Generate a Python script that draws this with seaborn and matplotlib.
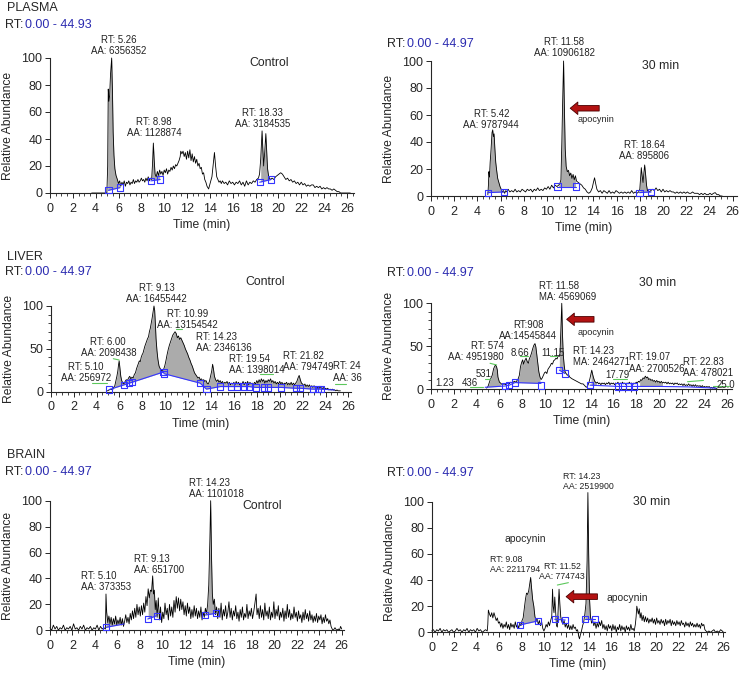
import numpy as np
import matplotlib
matplotlib.use("Agg")
import matplotlib.pyplot as plt
from matplotlib.ticker import MultipleLocator
import seaborn as sns

sns.set_style("ticks")
plt.rcParams['font.family'] = ['Liberation Sans', 'DejaVu Sans']

# %% chromatogram traces, (time min, relative abundance)
plasma_ctrl = [(3.65, 0), (4.98, 0), (5.05, 20), (5.1, 77), (5.16, 68), (5.22, 72), (5.3, 88), (5.4, 100),
               (5.47, 75), (5.53, 45), (5.6, 28), (5.68, 18), (5.78, 13), (5.9, 10), (6.0, 7), (6.1, 9),
               (6.2, 5), (6.3, 8), (6.4, 6), (6.5, 9), (6.6, 5), (6.7, 8), (6.8, 7), (6.9, 9), (7.0, 6),
               (7.1, 8), (7.2, 7), (7.3, 10), (7.4, 7), (7.5, 9), (7.6, 8), (7.7, 10), (7.8, 8), (7.9, 9),
               (8.0, 11), (8.1, 9), (8.2, 10), (8.3, 8), (8.4, 11), (8.5, 9), (8.6, 12), (8.7, 9), (8.8, 11),
               (8.9, 10), (8.98, 22), (9.05, 37), (9.12, 25), (9.2, 14), (9.3, 12), (9.4, 16), (9.5, 13),
               (9.6, 17), (9.7, 14), (9.8, 16), (9.9, 13), (10.0, 17), (10.1, 15), (10.2, 18), (10.3, 14),
               (10.4, 17), (10.5, 16), (10.6, 19), (10.7, 17), (10.8, 20), (10.9, 18), (11.0, 21), (11.1, 20),
               (11.2, 22), (11.3, 24), (11.4, 27), (11.45, 31), (11.55, 29), (11.65, 31), (11.75, 27),
               (11.85, 30), (11.95, 25), (12.05, 31), (12.15, 26), (12.25, 32), (12.35, 24), (12.45, 29),
               (12.55, 23), (12.65, 27), (12.75, 22), (12.85, 25), (12.95, 20), (13.05, 22), (13.15, 18),
               (13.25, 19), (13.35, 14), (13.45, 15), (13.55, 10), (13.65, 8), (13.75, 5), (13.89, 3),
               (13.98, 6), (14.08, 9), (14.18, 12), (14.28, 20), (14.4, 30), (14.5, 20), (14.6, 12),
               (14.7, 10), (14.8, 8), (14.9, 9), (15.0, 7), (15.1, 9), (15.25, 7), (15.4, 8), (15.55, 6),
               (15.7, 9), (15.85, 7), (16.0, 8), (16.15, 6), (16.3, 8), (16.45, 7), (16.6, 9), (16.75, 6),
               (16.9, 8), (17.05, 5), (17.2, 9), (17.35, 6), (17.5, 8), (17.65, 7), (17.8, 9), (17.95, 8),
               (18.1, 10), (18.25, 11), (18.35, 14), (18.45, 25), (18.57, 46), (18.64, 32), (18.71, 20),
               (18.8, 30), (18.9, 44), (18.98, 30), (19.05, 18), (19.15, 12), (19.3, 10), (19.45, 11),
               (19.6, 10), (19.75, 12), (19.9, 13), (20.05, 14), (20.2, 15), (20.35, 14), (20.5, 12),
               (20.65, 10), (20.8, 11), (20.95, 9), (21.1, 10), (21.25, 8), (21.4, 9), (21.55, 7), (21.7, 8),
               (21.85, 6), (22.0, 8), (22.15, 6), (22.3, 7), (22.45, 5), (22.6, 6), (22.75, 5), (22.9, 6),
               (23.05, 6), (23.2, 4), (23.35, 5), (23.5, 4), (23.65, 5), (23.8, 3), (23.95, 4), (24.1, 3),
               (24.25, 4), (24.4, 3), (24.55, 3), (24.7, 2), (24.85, 3), (25.0, 2), (25.15, 1), (25.3, 1),
               (25.45, 0), (26.3, 0)]

plasma_30 = [(4.9, 1), (4.95, 8), (4.99, 18), (5.04, 14), (5.1, 25), (5.18, 35), (5.26, 47), (5.32, 49),
             (5.38, 44), (5.44, 46), (5.5, 36), (5.58, 25), (5.66, 19), (5.75, 13), (5.85, 10), (5.95, 7),
             (6.05, 5), (6.15, 3), (6.25, 4), (6.35, 2), (6.45, 4), (6.55, 3), (6.65, 5), (6.8, 3), (6.95, 4),
             (7.1, 3), (7.25, 5), (7.4, 3), (7.55, 4), (7.7, 3), (7.85, 5), (8.0, 4), (8.15, 3), (8.3, 5),
             (8.45, 4), (8.6, 5), (8.75, 3), (8.9, 5), (9.05, 4), (9.2, 6), (9.35, 4), (9.5, 5), (9.65, 4),
             (9.8, 6), (9.95, 5), (10.1, 7), (10.25, 5), (10.4, 8), (10.55, 6), (10.7, 8), (10.85, 7),
             (11.0, 8), (11.1, 9), (11.2, 12), (11.28, 40), (11.35, 70), (11.43, 100), (11.5, 65),
             (11.57, 35), (11.65, 22), (11.75, 18), (11.85, 19), (11.95, 15), (12.05, 17), (12.15, 13),
             (12.25, 16), (12.35, 12), (12.45, 15), (12.55, 11), (12.7, 10), (12.85, 9), (13.0, 8),
             (13.15, 6), (13.3, 5), (13.45, 3), (13.6, 2), (13.75, 3), (13.9, 6), (14.0, 10), (14.1, 13.5),
             (14.2, 9), (14.3, 5), (14.45, 3), (14.6, 4), (14.75, 2), (14.9, 4), (15.05, 3), (15.2, 2),
             (15.35, 4), (15.5, 2), (15.65, 3), (15.8, 2), (15.95, 4), (16.1, 3), (16.25, 2), (16.4, 3),
             (16.55, 2), (16.7, 3), (16.85, 2), (17.0, 3), (17.15, 2), (17.3, 4), (17.45, 2), (17.6, 3),
             (17.75, 2), (17.9, 3), (18.0, 5), (18.07, 14), (18.13, 21), (18.2, 15), (18.28, 10),
             (18.35, 17), (18.42, 23), (18.5, 16), (18.58, 8), (18.66, 4), (18.8, 3), (18.95, 4), (19.1, 5),
             (19.25, 4), (19.4, 6), (19.55, 4), (19.7, 5), (19.85, 3), (20.0, 5), (20.15, 3), (20.3, 4),
             (20.45, 3), (20.6, 4), (20.75, 3), (20.9, 3), (21.05, 2), (21.2, 3), (21.35, 2), (21.5, 3),
             (21.65, 2), (21.8, 3), (21.95, 2), (22.1, 3), (22.25, 2), (22.4, 2), (22.55, 3), (22.7, 2),
             (22.85, 2), (23.0, 2), (23.15, 1), (23.3, 2), (23.45, 1), (23.6, 2), (23.75, 1), (23.9, 1),
             (24.05, 2), (24.2, 1), (24.35, 2), (24.5, 2.5), (24.65, 1), (24.8, 1), (24.95, 0), (25.1, 0)]

liver_ctrl = [(4.95, 1), (5.1, 2), (5.25, 3), (5.4, 2), (5.5, 5), (5.6, 7), (5.7, 13), (5.78, 18), (5.86, 24),
              (5.93, 32), (5.98, 36), (6.04, 28), (6.12, 18), (6.2, 13), (6.3, 10), (6.4, 9), (6.5, 12),
              (6.6, 14), (6.7, 13), (6.8, 16), (6.9, 18), (7.0, 15), (7.1, 17), (7.2, 16), (7.3, 20),
              (7.4, 22), (7.5, 27), (7.58, 30), (7.66, 33), (7.74, 36), (7.82, 35), (7.9, 40), (7.98, 43),
              (8.06, 45), (8.14, 49), (8.22, 53), (8.3, 56), (8.38, 59), (8.46, 62), (8.54, 64), (8.62, 70),
              (8.7, 74), (8.78, 80), (8.86, 86), (8.94, 93), (9.02, 100), (9.08, 95), (9.14, 80), (9.2, 62),
              (9.28, 48), (9.36, 38), (9.46, 30), (9.56, 27), (9.66, 25), (9.76, 24), (9.86, 26), (9.96, 30),
              (10.06, 36), (10.16, 43), (10.26, 49), (10.36, 54), (10.46, 58), (10.56, 62), (10.66, 66),
              (10.76, 68), (10.86, 70), (10.96, 68), (11.06, 63), (11.16, 65), (11.26, 61), (11.36, 63),
              (11.46, 60), (11.56, 57), (11.66, 54), (11.76, 50), (11.86, 47), (11.96, 44), (12.06, 40),
              (12.16, 37), (12.26, 33), (12.36, 30), (12.46, 26), (12.56, 22), (12.66, 20), (12.76, 18),
              (12.86, 16), (12.96, 17), (13.06, 14), (13.16, 15), (13.26, 13), (13.36, 14), (13.46, 12),
              (13.56, 13), (13.66, 10), (13.76, 9), (13.86, 12), (13.96, 18), (14.06, 24), (14.14, 32),
              (14.22, 26), (14.3, 18), (14.4, 14), (14.5, 12), (14.6, 14), (14.7, 11), (14.8, 13),
              (14.9, 10), (15.0, 12), (15.1, 9), (15.2, 11), (15.3, 10), (15.4, 12), (15.5, 9), (15.6, 11),
              (15.7, 8), (15.8, 10), (15.9, 9), (16.0, 11), (16.1, 8), (16.2, 12), (16.3, 9), (16.4, 11),
              (16.5, 8), (16.6, 10), (16.7, 9), (16.8, 12), (16.9, 8), (17.0, 11), (17.1, 9), (17.2, 12),
              (17.3, 8), (17.4, 11), (17.5, 9), (17.6, 10), (17.7, 8), (17.8, 11), (17.9, 9), (18.0, 13),
              (18.1, 10), (18.2, 14), (18.3, 11), (18.4, 15), (18.5, 12), (18.6, 14), (18.7, 10), (18.8, 13),
              (18.9, 11), (19.0, 14), (19.1, 12), (19.2, 15), (19.3, 11), (19.4, 13), (19.5, 10), (19.6, 12),
              (19.7, 9), (19.8, 11), (19.9, 9), (20.0, 12), (20.1, 9), (20.2, 11), (20.3, 8), (20.4, 10),
              (20.5, 9), (20.6, 11), (20.7, 8), (20.8, 10), (20.9, 8), (21.0, 11), (21.1, 8), (21.2, 10),
              (21.3, 8), (21.4, 10), (21.5, 12), (21.6, 16), (21.7, 19), (21.8, 14), (21.9, 10), (22.0, 9),
              (22.1, 7), (22.2, 9), (22.3, 6), (22.4, 8), (22.5, 6), (22.6, 8), (22.7, 5), (22.8, 7),
              (22.9, 5), (23.0, 7), (23.1, 5), (23.2, 6), (23.3, 4), (23.4, 6), (23.5, 4), (23.6, 5),
              (23.7, 3), (23.8, 5), (23.9, 3), (24.0, 4), (24.1, 3), (24.2, 4), (24.3, 2), (24.4, 3),
              (24.5, 2), (24.6, 3), (24.7, 2), (24.8, 2), (24.9, 1), (25.0, 2), (25.1, 1), (25.3, 1)]

liver_30 = [(4.88, 1), (5.0, 3), (5.1, 7), (5.2, 11), (5.37, 16), (5.5, 24), (5.65, 28), (5.75, 26),
            (5.82, 22), (5.87, 14), (6.0, 8), (6.1, 7), (6.25, 5), (6.4, 6), (6.55, 5), (6.7, 7), (6.85, 6),
            (7.0, 8), (7.15, 7), (7.3, 9), (7.45, 8), (7.55, 10), (7.65, 12), (7.75, 16), (7.85, 26),
            (7.95, 31), (8.04, 34), (8.12, 29), (8.22, 33), (8.34, 36), (8.44, 32), (8.54, 30), (8.62, 35),
            (8.72, 38), (8.82, 42), (8.92, 47), (9.02, 51), (9.12, 53), (9.2, 49), (9.28, 40), (9.36, 30),
            (9.46, 20), (9.56, 14), (9.66, 11), (9.76, 13), (9.86, 16), (9.96, 19), (10.06, 20),
            (10.16, 18), (10.26, 23), (10.36, 25), (10.46, 27), (10.56, 30), (10.66, 29), (10.76, 33),
            (10.86, 34), (10.96, 36), (11.06, 35), (11.16, 39), (11.26, 38), (11.32, 42), (11.4, 75),
            (11.47, 100), (11.53, 65), (11.6, 40), (11.68, 28), (11.76, 20), (11.86, 18), (11.96, 16),
            (12.06, 17), (12.16, 14), (12.26, 13), (12.36, 12), (12.5, 11), (12.64, 10), (12.78, 9),
            (12.92, 8), (13.06, 7), (13.2, 6), (13.34, 6), (13.48, 4), (13.62, 2), (13.72, 3), (13.84, 7),
            (13.94, 12), (14.04, 18), (14.1, 22), (14.18, 17), (14.26, 13), (14.36, 9), (14.5, 7),
            (14.6, 8), (14.7, 6), (14.8, 7), (14.9, 5), (15.0, 7), (15.1, 6), (15.2, 7), (15.3, 5),
            (15.4, 7), (15.5, 6), (15.6, 8), (15.7, 5), (15.8, 7), (15.9, 6), (16.0, 7), (16.1, 5),
            (16.2, 7), (16.3, 6), (16.4, 8), (16.5, 5), (16.6, 7), (16.7, 6), (16.8, 8), (16.9, 6),
            (17.0, 7), (17.1, 5), (17.2, 7), (17.3, 6), (17.4, 8), (17.5, 6), (17.6, 7), (17.7, 5),
            (17.8, 7), (17.9, 6), (18.0, 8), (18.1, 7), (18.2, 9), (18.3, 8), (18.4, 11), (18.5, 10),
            (18.6, 13), (18.7, 12), (18.8, 15), (18.9, 13), (19.0, 14), (19.1, 11), (19.2, 12), (19.3, 10),
            (19.4, 11), (19.5, 9), (19.6, 10), (19.7, 8), (19.8, 10), (19.9, 8), (20.0, 9), (20.1, 7),
            (20.2, 9), (20.3, 7), (20.4, 8), (20.5, 7), (20.6, 8), (20.7, 6), (20.8, 8), (20.9, 6),
            (21.0, 7), (21.1, 6), (21.2, 7), (21.3, 5), (21.4, 7), (21.5, 6), (21.6, 7), (21.7, 5),
            (21.8, 6), (21.9, 5), (22.0, 6), (22.1, 4), (22.2, 6), (22.3, 4), (22.4, 5), (22.5, 4),
            (22.6, 6), (22.7, 4), (22.8, 5), (22.9, 3), (23.0, 5), (23.1, 3), (23.2, 5), (23.3, 3),
            (23.4, 4), (23.5, 3), (23.6, 4), (23.7, 2), (23.8, 4), (23.9, 2), (24.0, 3), (24.1, 2),
            (24.2, 3), (24.3, 2), (24.4, 3), (24.5, 1), (24.6, 2), (24.7, 1), (24.8, 2), (24.9, 1),
            (25.0, 1), (25.1, 0)]

brain_ctrl = [(0.0, 2), (0.15, 0), (0.3, 4), (0.45, 1), (0.6, 3), (0.75, 0), (0.9, 2), (1.05, 1), (1.2, 4),
              (1.35, 0), (1.5, 2), (1.65, 1), (1.8, 3), (1.95, 0), (2.1, 5), (2.25, 1), (2.4, 2), (2.55, 0),
              (2.7, 3), (2.85, 1), (3.0, 4), (3.15, 0), (3.3, 2), (3.45, 1), (3.6, 3), (3.75, 0), (3.9, 2),
              (4.05, 1), (4.2, 4), (4.35, 0), (4.5, 3), (4.65, 1), (4.8, 2), (4.94, 1), (4.99, 28),
              (5.05, 14), (5.15, 6), (5.25, 11), (5.35, 5), (5.45, 10), (5.55, 4), (5.65, 9), (5.75, 5),
              (5.85, 11), (5.95, 4), (6.05, 8), (6.15, 5), (6.25, 10), (6.35, 4), (6.45, 9), (6.55, 3),
              (6.65, 7), (6.75, 12), (6.85, 6), (6.95, 10), (7.05, 5), (7.15, 13), (7.25, 8), (7.35, 15),
              (7.45, 9), (7.55, 17), (7.65, 10), (7.75, 20), (7.85, 12), (7.95, 18), (8.05, 11), (8.15, 19),
              (8.25, 12), (8.35, 21), (8.45, 14), (8.55, 26), (8.65, 19), (8.75, 32), (8.85, 25), (8.95, 31),
              (9.05, 30), (9.15, 42), (9.22, 28), (9.3, 31), (9.38, 16), (9.46, 23), (9.55, 10), (9.65, 25),
              (9.75, 8), (9.85, 18), (9.95, 6), (10.05, 14), (10.15, 9), (10.25, 21), (10.35, 12),
              (10.45, 17), (10.55, 8), (10.65, 20), (10.75, 11), (10.85, 18), (10.95, 10), (11.05, 23),
              (11.15, 14), (11.25, 26), (11.35, 17), (11.45, 25), (11.55, 15), (11.65, 24), (11.75, 16),
              (11.85, 22), (11.95, 12), (12.05, 19), (12.15, 11), (12.25, 21), (12.35, 13), (12.45, 18),
              (12.55, 9), (12.65, 16), (12.75, 10), (12.85, 19), (12.95, 11), (13.05, 17), (13.15, 9),
              (13.25, 15), (13.35, 10), (13.45, 18), (13.55, 8), (13.65, 14), (13.75, 10), (13.85, 17),
              (13.95, 13), (14.05, 20), (14.15, 35), (14.25, 70), (14.32, 100), (14.4, 55), (14.47, 28),
              (14.55, 20), (14.65, 24), (14.75, 12), (14.85, 18), (14.95, 9), (15.05, 17), (15.15, 10),
              (15.25, 21), (15.35, 8), (15.45, 16), (15.55, 11), (15.65, 19), (15.75, 9), (15.85, 14),
              (15.95, 22), (16.05, 10), (16.15, 17), (16.25, 8), (16.35, 15), (16.45, 11), (16.55, 19),
              (16.65, 9), (16.75, 14), (16.85, 7), (16.95, 16), (17.05, 10), (17.15, 18), (17.25, 8),
              (17.35, 13), (17.45, 10), (17.55, 20), (17.65, 9), (17.75, 15), (17.85, 11), (17.95, 17),
              (18.05, 9), (18.15, 14), (18.25, 20), (18.37, 28), (18.45, 12), (18.55, 17), (18.65, 9),
              (18.75, 19), (18.85, 10), (18.95, 16), (19.05, 8), (19.15, 21), (19.25, 11), (19.35, 15),
              (19.45, 9), (19.55, 18), (19.65, 8), (19.75, 14), (19.85, 10), (19.95, 22), (20.05, 9),
              (20.15, 16), (20.25, 11), (20.35, 19), (20.45, 8), (20.55, 14), (20.65, 10), (20.75, 17),
              (20.85, 7), (20.95, 15), (21.05, 9), (21.15, 20), (21.25, 10), (21.35, 16), (21.45, 8),
              (21.55, 13), (21.65, 9), (21.75, 18), (21.85, 10), (21.95, 14), (22.05, 7), (22.15, 15),
              (22.25, 9), (22.35, 12), (22.45, 6), (22.55, 14), (22.65, 8), (22.75, 16), (22.85, 9),
              (22.95, 13), (23.05, 7), (23.15, 15), (23.25, 8), (23.35, 12), (23.45, 6), (23.55, 11),
              (23.65, 7), (23.75, 13), (23.85, 6), (23.95, 11), (24.05, 8), (24.15, 12), (24.25, 5),
              (24.35, 10), (24.45, 6), (24.55, 12), (24.65, 7), (24.75, 9), (24.85, 5), (24.95, 8),
              (25.05, 3), (25.15, 1), (25.25, 0), (25.4, 2), (25.55, 0), (25.7, 1), (25.8, 0), (25.9, 3),
              (26.0, 1)]

brain_30 = [(0.0, 1), (0.15, 2), (0.3, 0), (0.45, 2), (0.6, 1), (0.75, 3), (0.9, 0), (1.05, 2), (1.2, 1),
            (1.35, 2), (1.5, 0), (1.65, 1), (1.8, 2), (1.95, 0), (2.1, 1), (2.25, 3), (2.4, 1), (2.55, 2),
            (2.7, 0), (2.85, 2), (3.0, 1), (3.15, 3), (3.3, 0), (3.45, 2), (3.6, 1), (3.75, 2), (3.9, 0),
            (4.05, 3), (4.2, 1), (4.35, 2), (4.5, 0), (4.65, 1), (4.8, 2), (4.95, 1), (5.0, 6), (5.05, 17),
            (5.15, 14), (5.25, 12), (5.35, 15), (5.45, 11), (5.55, 15), (5.65, 12), (5.75, 9), (5.85, 11),
            (5.95, 7), (6.05, 8), (6.15, 4), (6.25, 7), (6.35, 3), (6.45, 6), (6.55, 4), (6.65, 8),
            (6.75, 3), (6.85, 6), (6.95, 2), (7.05, 7), (7.15, 4), (7.25, 6), (7.35, 3), (7.45, 8),
            (7.55, 4), (7.65, 6), (7.75, 3), (7.85, 7), (7.95, 5), (8.05, 9), (8.15, 11), (8.25, 18),
            (8.35, 25), (8.45, 30), (8.55, 29), (8.65, 32), (8.75, 38), (8.82, 42), (8.9, 34), (9.0, 25),
            (9.1, 20), (9.2, 12), (9.3, 9), (9.4, 10), (9.5, 6), (9.6, 9), (9.7, 5), (9.8, 8), (9.9, 3),
            (10.0, 1), (10.1, 3), (10.2, 6), (10.3, 4), (10.4, 8), (10.5, 5), (10.6, 9), (10.7, 12),
            (10.77, 33), (10.83, 20), (10.9, 15), (10.97, 27), (11.05, 15), (11.12, 5), (11.2, 4),
            (11.28, 20), (11.35, 33), (11.42, 22), (11.5, 12), (11.6, 8), (11.7, 6), (11.8, 9), (11.9, 4),
            (12.0, 7), (12.1, 3), (12.2, 6), (12.3, 2), (12.4, 5), (12.5, 2), (12.6, 6), (12.7, 3),
            (12.8, 4), (12.9, 1), (13.0, 2), (13.1, -3), (13.17, -5), (13.25, -2), (13.35, 1), (13.45, 5),
            (13.55, 8), (13.65, 14), (13.75, 22), (13.85, 55), (13.92, 107), (13.99, 60), (14.07, 25),
            (14.15, 12), (14.25, 7), (14.35, 9), (14.45, 5), (14.55, 8), (14.65, 3), (14.75, 7),
            (14.85, 4), (14.95, 8), (15.05, 5), (15.15, 9), (15.25, 3), (15.35, 6), (15.45, 2), (15.55, 5),
            (15.65, 1), (15.75, 6), (15.85, 3), (15.95, 5), (16.05, 1), (16.15, 6), (16.25, 2), (16.35, 5),
            (16.45, 0), (16.55, 4), (16.65, 2), (16.75, 6), (16.85, 1), (16.95, 5), (17.05, 2), (17.15, 4),
            (17.25, 0), (17.35, 5), (17.45, 2), (17.55, 4), (17.65, 1), (17.75, 6), (17.85, 2), (17.95, 3),
            (18.05, 1), (18.15, 6), (18.22, 12), (18.28, 20), (18.35, 17), (18.42, 14), (18.5, 18),
            (18.58, 11), (18.66, 15), (18.75, 9), (18.85, 13), (18.95, 8), (19.05, 12), (19.15, 8),
            (19.25, 11), (19.35, 7), (19.45, 10), (19.55, 8), (19.65, 11), (19.75, 7), (19.85, 10),
            (19.95, 6), (20.05, 11), (20.15, 7), (20.25, 9), (20.35, 6), (20.45, 10), (20.55, 7),
            (20.65, 9), (20.75, 5), (20.85, 10), (20.95, 6), (21.05, 9), (21.15, 7), (21.25, 10),
            (21.35, 5), (21.45, 9), (21.55, 6), (21.65, 8), (21.75, 5), (21.85, 9), (21.95, 6), (22.05, 8),
            (22.15, 5), (22.25, 9), (22.35, 6), (22.45, 7), (22.55, 4), (22.65, 8), (22.75, 5), (22.85, 7),
            (22.95, 4), (23.05, 8), (23.15, 5), (23.25, 7), (23.35, 4), (23.45, 6), (23.55, 4), (23.65, 7),
            (23.75, 4), (23.85, 6), (23.95, 3), (24.05, 7), (24.15, 5), (24.25, 6), (24.35, 2), (24.45, 1),
            (24.55, 0), (24.7, 1), (24.85, 0), (25.0, 1), (25.15, 2), (25.3, 0), (25.45, 1), (25.6, 0),
            (25.75, 2), (25.9, 1), (26.0, 0)]

# %% integration baselines (blue) and shaded peak windows
plasma_ctrl_base = [[(5.12, 2), (6.14, 4)], [(8.83, 9), (9.65, 10)], [(18.36, 8), (19.36, 10)]]
plasma_30_base = [[(4.9, 2.5), (6.3, 3)], [(10.9, 7), (12.5, 7)], [(17.97, 2.5), (18.97, 3)]]
liver_ctrl_base = [[(5.1, 2.5), (6.4, 8), (6.85, 10), (7.1, 11), (9.85, 23), (9.9, 21), (13.05, 10),
                    (13.6, 3), (14.8, 6), (15.75, 6), (16.3, 6), (16.85, 6), (17.3, 6), (17.9, 5),
                    (18.6, 5), (18.95, 5), (20.1, 5), (21.4, 4), (21.8, 4), (22.9, 3), (23.35, 3),
                    (23.6, 3), (24.8, 2)]]
liver_30_base = [[(4.75, 2), (6.5, 3.5), (6.87, 4.5), (7.37, 7.5), (9.65, 6.5)],
                 [(11.26, 22), (11.76, 18)],
                 [(13.95, 4.5), (16.4, 3), (16.8, 3), (17.4, 3), (17.8, 3), (20.0, 3), (22.5, 2.5),
                  (25.0, 1)]]
brain_ctrl_base = [[(4.99, 2.3), (6.6, 4.9)], [(8.71, 8.7), (9.51, 11.3)], [(13.82, 11.8), (14.8, 13.1)]]
brain_30_base = [[(7.84, 5.6), (9.45, 8.7)], [(10.96, 10), (11.9, 9.4)], [(13.64, 10), (14.53, 10)]]

plasma_ctrl_sq = [(5.12, 2), (6.14, 4), (8.83, 9), (9.65, 10), (18.36, 8), (19.36, 10)]
plasma_30_sq = [(4.9, 2.5), (6.3, 3), (10.9, 7), (12.5, 7), (17.97, 2.5), (18.97, 3)]
liver_ctrl_sq = liver_ctrl_base[0][:-1]
liver_30_sq = [(6.5, 3.5), (6.87, 4.5), (7.37, 7.5), (9.65, 4), (11.26, 22), (11.76, 18), (13.95, 4.5),
               (16.4, 3), (16.8, 3), (17.4, 3), (17.8, 3)]
brain_ctrl_sq = [(4.99, 2.3), (8.71, 8.7), (9.51, 11.3), (13.82, 11.8), (14.8, 13.1)]
brain_30_sq = [(7.84, 5.6), (9.45, 8.7), (10.96, 10), (11.9, 9.4), (13.64, 10), (14.53, 10)]

plasma_ctrl_fill = [(5.02, 6.14), (8.83, 9.65), (18.36, 19.36)]
plasma_30_fill = [(4.9, 6.3), (10.9, 12.5), (17.97, 18.97)]
liver_ctrl_fill = [(5.1, 24.8)]
liver_30_fill = [(5.0, 6.2), (7.4, 9.6), (11.26, 11.76), (13.95, 14.5), (18.3, 20.3)]
brain_ctrl_fill = [(4.99, 6.6), (8.71, 9.51), (13.82, 14.8)]
brain_30_fill = [(7.84, 9.45), (13.64, 14.53)]
brain_30_light = [(11.1, 11.6)]

# %% peak labels: (time, height, text, alignment)
plasma_ctrl_lab = [(6.0, 109, "RT: 5.26\nAA: 6356352", "center"),
                   (9.1, 48.5, "RT: 8.98\nAA: 1128874", "center"),
                   (18.6, 55, "RT: 18.33\nAA: 3184535", "center")]
plasma_30_lab = [(5.2, 56.5, "RT: 5.42\nAA: 9787944", "center"),
                 (11.5, 110, "RT: 11.58\nAA: 10906182", "center"),
                 (18.4, 34, "RT: 18.64\nAA: 895806", "center")]
liver_ctrl_lab = [(3.06, 22.7, "RT: 5.10\nAA: 256972", "center"),
                  (5.03, 51.9, "RT: 6.00\nAA: 2098438", "center"),
                  (9.26, 114.4, "RT: 9.13\nAA: 16455442", "center"),
                  (11.96, 84.6, "RT: 10.99\nAA: 13154542", "center"),
                  (12.69, 57.4, "RT: 14.23\nAA: 2346136", "left"),
                  (15.6, 31.5, "RT: 19.54\nAA: 1398014", "left"),
                  (20.32, 35.4, "RT: 21.82\nAA: 794749", "left"),
                  (24.65, 23, "RT: 24\nAA: 36", "left")]
liver_30_lab = [(1.23, 7.4, "1.23", "center"), (3.42, 6.6, "436", "center"), (4.59, 17.5, "531", "center"),
                (6.35, 43.4, "RT: 574\nAA: 4951980", "right"), (7.81, 41.6, "8.66", "center"),
                (8.54, 68.7, "RT:908\nAA:14545844", "center"), (10.7, 42.4, "11.15", "center"),
                (9.45, 114, "RT: 11.58\nMA: 4569069", "left"),
                (12.49, 37.5, "RT: 14.23\nMA: 2464271", "left"), (16.32, 16.3, "17.79", "center"),
                (17.37, 30.3, "RT: 19.07\nAA: 2700526", "left"),
                (22.14, 25.1, "RT: 22.83\nAA: 478021", "left"), (25.07, 4.7, "25.0", "left")]
brain_ctrl_lab = [(2.73, 37.5, "RT: 5.10\nAA: 373353", "left"),
                  (7.52, 51, "RT: 9.13\nAA: 651700", "left"),
                  (12.42, 109.2, "RT: 14.23\nAA: 1101018", "left")]
brain_30_lab = [(5.2, 52.2, "RT: 9.08\nAA: 2211794", "left"),
                (11.62, 46.7, "RT: 11.52\nAA: 774743", "center"),
                (11.74, 115.6, "RT: 14.23\nAA: 2519900", "left")]

# green apex markers
liver_ctrl_green = [((3.58, 4.89), (9.8, 9.8)), ((5.47, 5.97), (38.5, 37)), ((10.92, 11.45), (72.8, 72.8)),
                    ((18.3, 19.45), (20.6, 20.6)), ((24.8, 25.8), (8.6, 8.6))]
liver_30_green = [((3.42, 4.59), (2, 2)), ((4.74, 5.18), (11.3, 11.3)), ((5.18, 5.76), (30, 28)),
                  ((7.81, 8.54), (38.5, 38.5)), ((10.44, 11.03), (38.5, 38.5)), ((16.0, 17.17), (12, 12)),
                  ((22.5, 23.9), (8.5, 10)), ((24.7, 26.1), (4, 4))]
brain_30_green = [((11.2, 12.18), (36.2, 38))]

GRAY = "#ababab"
LIGHT = "#d9d9d9"
BLUE = "#3535ff"
GREEN = "#5cc85c"
HEAD_BLUE = "#2b2bb0"

W, H = 740, 674
fig = plt.figure(figsize=(W / 100, H / 100), dpi=100)


def draw_panel(rect, xmax, trace, ystep, yminor, bases, squares, fills, labels,
               greens=(), light=(), tag=None, arrow=None, apoc=None, labsize=6.9):
    l, b, w, h = rect
    ax = fig.add_axes([l / W, b / H, w / W, h / H])
    t, y = np.array(trace).T

    # baseline used under the shaded peaks
    allb = np.array(sorted(p for seg in bases for p in seg))
    for lo, hi in fills:
        m = (t >= lo) & (t <= hi)
        base = np.interp(t[m], allb[:, 0], allb[:, 1])
        ax.fill_between(t[m], base, np.maximum(y[m], base), color=GRAY, lw=0, zorder=1, clip_on=False)
    for lo, hi in light:
        m = (t >= lo) & (t <= hi)
        base = np.interp(t[m], allb[:, 0], allb[:, 1])
        ax.fill_between(t[m], base, np.maximum(y[m], base), color=LIGHT, lw=0, zorder=1, clip_on=False)

    sns.lineplot(x=t, y=y, ax=ax, color="black", linewidth=0.6, estimator=None, sort=False,
                 errorbar=None, zorder=2)
    ax.lines[-1].set_clip_on(False)

    for seg in bases:
        bt, by = np.array(seg).T
        ax.plot(bt, by, color=BLUE, lw=0.8, zorder=3, clip_on=False)
    st, sy = np.array(squares).T
    ax.scatter(st, sy, marker="s", s=20, facecolors="none", edgecolors=BLUE, linewidths=0.8,
               zorder=4, clip_on=False)
    for (gx, gy) in greens:
        ax.plot(gx, gy, color=GREEN, lw=0.8, zorder=3, clip_on=False)

    for lt, ly, txt, ha in labels:
        ax.text(lt, ly, txt, ha=ha, va="center", fontsize=labsize, linespacing=1.15,
                color="#222222", clip_on=False, zorder=5)
    if tag:
        ax.text(tag[0], tag[1], tag[2], ha="center", va="center", fontsize=8.8)
    if arrow:
        ax.annotate("", xy=(arrow[1], arrow[2]), xytext=(arrow[0], arrow[2]), annotation_clip=False,
                    arrowprops=dict(arrowstyle="simple,head_length=0.55,head_width=0.9,tail_width=0.4",
                                    fc="#b31212", ec="#4a0000", lw=0.6, shrinkA=0, shrinkB=0,
                                    mutation_scale=10))
    if apoc:
        ax.text(apoc[0], apoc[1], "apocynin", ha="center", va="center", fontsize=apoc[2])

    ax.set_xlim(0, xmax)
    ax.set_ylim(0, 100)
    ax.xaxis.set_major_locator(MultipleLocator(2))
    ax.xaxis.set_minor_locator(MultipleLocator(0.5))
    ax.yaxis.set_major_locator(MultipleLocator(ystep))
    if yminor:
        ax.yaxis.set_minor_locator(MultipleLocator(yminor))
    ax.tick_params(which="major", direction="out", length=3.5, width=0.7, labelsize=9, pad=3.5)
    ax.tick_params(which="minor", direction="out", length=2.5, width=0.6)
    ax.tick_params(axis="y", pad=2)
    for s in ("top", "right"):
        ax.spines[s].set_visible(False)
    for s in ("left", "bottom"):
        ax.spines[s].set_linewidth(0.8)
    ax.set_xlabel("Time (min)", fontsize=8.7, labelpad=3)
    ax.set_ylabel("Relative Abundance", fontsize=8.7, labelpad=5)
    return ax


def header(x, y, rng, name=None, name_y=None):
    if name:
        fig.text(x / W + 0.003, 1 - name_y / H, name, fontsize=9, va="center")
    fig.text(x / W, 1 - y / H, "RT:", fontsize=9, va="center")
    fig.text((x + 20) / W, 1 - y / H, rng, fontsize=9, va="center", color=HEAD_BLUE)


draw_panel((50, 481, 26.6 * 11.42, 135), 26.6, plasma_ctrl, 20, None, plasma_ctrl_base, plasma_ctrl_sq,
           plasma_ctrl_fill, plasma_ctrl_lab, tag=(19.2, 96, "Control"))
draw_panel((431, 478, 26.4 * 11.6, 135), 26.4, plasma_30, 20, None, plasma_30_base, plasma_30_sq,
           plasma_30_fill, plasma_30_lab, tag=(19.8, 96, "30 min"), arrow=(14.5, 12.0, 65),
           apoc=(14.2, 57, 6.6))
draw_panel((50.7, 282.3, 26.2 * 11.45, 85.7), 26.2, liver_ctrl, 50, 10, liver_ctrl_base, liver_ctrl_sq,
           liver_ctrl_fill, liver_ctrl_lab, greens=liver_ctrl_green, tag=(18.7, 128, "Control"))
draw_panel((431, 285, 26.4 * 11.4, 85.7), 26.4, liver_30, 50, 10, liver_30_base, liver_30_sq,
           liver_30_fill, liver_30_lab, greens=liver_30_green, tag=(19.86, 124, "30 min"),
           arrow=(14.3, 11.9, 81.3), apoc=(14.48, 65.8, 6.6))
draw_panel((50, 43.7, 26.2 * 11.22, 129.6), 26.2, brain_ctrl, 20, None, brain_ctrl_base, brain_ctrl_sq,
           brain_ctrl_fill, brain_ctrl_lab, tag=(18.87, 96, "Control"))
ax6 = draw_panel((431.7, 41.7, 26.1 * 11.22, 130.6), 26.1, brain_30, 20, None, brain_30_base, brain_30_sq,
                 brain_30_fill, brain_30_lab, greens=brain_30_green, light=brain_30_light,
                 tag=(19.6, 100, "30 min"), arrow=(14.77, 11.98, 27.3), apoc=(17.44, 26, 7.5),
                 labsize=6.3)
ax6.text(8.38, 71.2, "apocynin", ha="center", va="center", fontsize=7.5)

header(5, 25, "0.00 - 44.93", "PLASMA", 8)
header(387, 44, "0.00 - 44.97")
header(5, 272, "0.00 - 44.97", "LIVER", 257)
header(387, 273, "0.00 - 44.97")
header(5, 472, "0.00 - 44.97", "BRAIN", 455)
header(387, 473, "0.00 - 44.97")

fig.savefig("out.png", dpi=100)
